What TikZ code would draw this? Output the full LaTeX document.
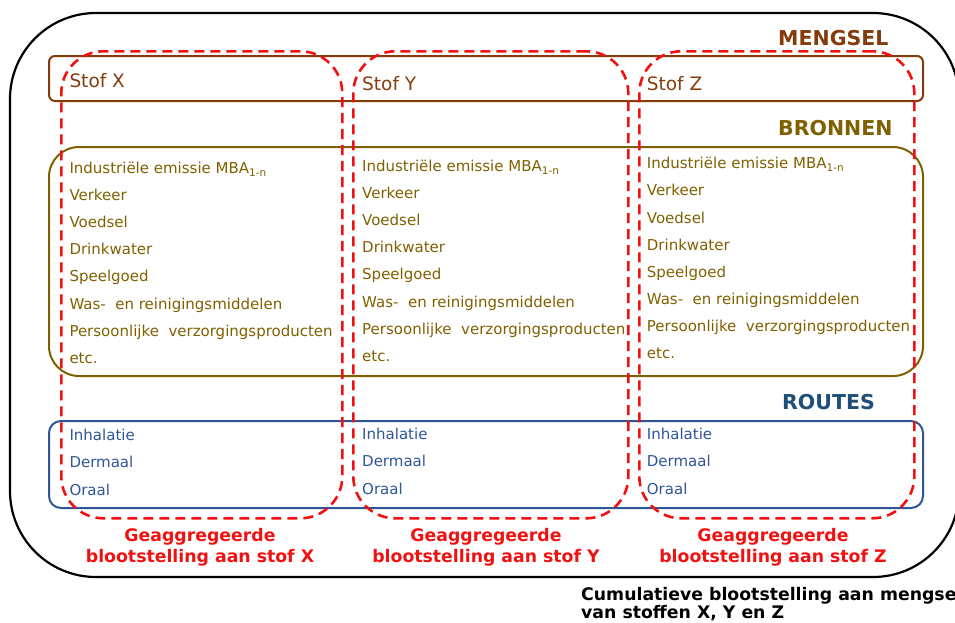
\documentclass[tikz,border=0pt]{standalone}
\usepackage{fontspec}
\setmainfont{DejaVu Sans}
\definecolor{cbrown}{HTML}{843C0C}
\definecolor{colive}{HTML}{7F6000}
\definecolor{cblue}{HTML}{2F5597}
\definecolor{ctblue}{HTML}{1F4E79}
\definecolor{cred}{HTML}{F21111}
\newcommand\subtxt[1]{\raisebox{-0.35ex}{\fontsize{10.5}{12}\selectfont #1}}
\begin{document}
\begin{tikzpicture}[x=1pt,y=-1pt,
  box/.style={draw, line width=2pt, inner sep=0pt, outer sep=0pt, anchor=north west, minimum width=874pt},
  grp/.style={draw=cred, line width=2.6pt, dash pattern=on 10pt off 6pt, rounded corners=42pt, inner sep=0pt, anchor=north west, minimum height=467pt},
  item/.style={anchor=base west, inner sep=0pt, font=\fontsize{15}{18}\selectfont},
  stof/.style={anchor=base west, inner sep=0pt, text=cbrown, font=\fontsize{18.5}{22}\selectfont},
  ttl/.style={anchor=base west, inner sep=0pt, font=\fontsize{20.5}{24}\selectfont\bfseries},
  lbl/.style={anchor=base, inner sep=0pt, text=cred, font=\fontsize{17.3}{20}\selectfont\bfseries},
  btm/.style={anchor=base west, inner sep=0pt, text=black, font=\fontsize{17.3}{20}\selectfont\bfseries},
]
\useasboundingbox (0,0) rectangle (955,622);
\begin{scope}
\clip (0,0) rectangle (955,622);
% outer frame
\coordinate (otl) at (10,13);
\coordinate (obr) at (959,577);
\draw[line width=2.2pt, rounded corners=86pt] (otl) rectangle (obr);
\end{scope}
% category boxes
\node[box, draw=cbrown, rounded corners=6pt, minimum height=45pt] (mbox) at (49,56) {};
\node[box, draw=colive, rounded corners=30pt, minimum height=229pt] (bbox) at (49,147) {};
\node[box, draw=cblue, rounded corners=12pt, minimum height=87pt] (rbox) at (49,421) {};
% titles
\node[ttl, text=cbrown] (tm) at (778,45) {MENGSEL};
\node[ttl, text=colive] (tb) at (778,135) {BRONNEN};
\node[ttl, text=ctblue] (tr) at (782,409) {ROUTES};
% stof
\node[stof] (sx) at (69.3,87) {Stof X};
\node[stof] (sy) at (362,90) {Stof Y};
\node[stof] (sz) at (646.7,90) {Stof Z};
% bronnen lists
\foreach \col/\xx/\yy in {x/69.3/173.3, y/362/171.3, z/646.7/168.7}{
  \foreach \t [count=\i from 0] in {Industriële emissie MBA\subtxt{1-n}, Verkeer, Voedsel, Drinkwater, Speelgoed, Was-\ \ en reinigingsmiddelen, Persoonlijke\ \ verzorgingsproducten, etc.}{
    \node[item, text=colive] (b\col\i) at (\xx,\yy+27.15*\i) {\t};
  }
}
% routes lists
\foreach \col/\xx/\yy in {x/69.3/440, y/362/439.3, z/646.7/439.3}{
  \foreach \t [count=\i from 0] in {Inhalatie, Dermaal, Oraal}{
    \node[item, text=cblue] (r\col\i) at (\xx,\yy+27.6*\i) {\t};
  }
}
% red groups
\node[grp, minimum width=281pt] (gx) at (60,50) {};
\node[grp, minimum width=275pt] (gy) at (352,50) {};
\node[grp, minimum width=275pt] (gz) at (638,50) {};
% red labels
\node[lbl] (lx1) at (200,541.7) {Geaggregeerde};
\node[lbl] (lx2) at (200,562) {blootstelling aan stof X};
\node[lbl] (ly1) at (486,541.7) {Geaggregeerde};
\node[lbl] (ly2) at (486,562) {blootstelling aan stof Y};
\node[lbl] (lz1) at (773,541.7) {Geaggregeerde};
\node[lbl] (lz2) at (773,562) {blootstelling aan stof Z};
% bottom caption
\node[btm] (c1) at (581,600.5) {Cumulatieve blootstelling aan mengse};
\node[btm] (c2) at (581,618) {van stoffen X, Y en Z};
\end{tikzpicture}
\end{document}
